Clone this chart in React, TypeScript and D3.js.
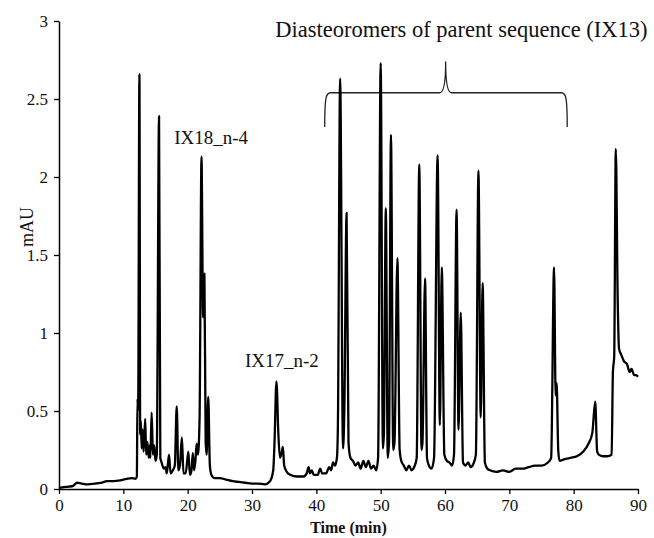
import React, { useRef, useEffect } from 'react';
import * as d3 from 'd3';

// chromatogram trace, [time (min), absorbance (mAU)]
const baselineStart: [number, number][] = [
  [0, 0.005], [0.5, 0.01], [1.5, 0.015], [2.2, 0.02], [2.8, 0.04], [3.5, 0.035], [4.5, 0.03],
  [5.5, 0.035], [6.5, 0.04], [7.5, 0.05], [8.5, 0.05], [9.5, 0.055], [10.5, 0.065], [11.3, 0.07],
  [11.9, 0.065], [12.1, 0.08],
];

const earlyCluster: [number, number][] = [
  [12.2, 0.58], [12.3, 0.5], [12.5, 2.66], [12.62, 0.35], [12.72, 0.44], [12.85, 0.26], [13.0, 0.38],
  [13.15, 0.24], [13.4, 0.45], [13.55, 0.22], [13.75, 0.3], [13.95, 0.2], [14.1, 0.28], [14.2, 0.2],
  [14.4, 0.49], [14.6, 0.22], [14.8, 0.28], [15.0, 0.18], [15.2, 0.22], [15.55, 2.39], [15.75, 0.2],
  [15.95, 0.17], [16.3, 0.13], [16.55, 0.14], [16.75, 0.1], [17.1, 0.22], [17.35, 0.1], [17.7, 0.12],
  [18.0, 0.15], [18.3, 0.53], [18.55, 0.12], [18.8, 0.15], [19.1, 0.33], [19.35, 0.1], [19.7, 0.1],
  [20.1, 0.24], [20.35, 0.09], [20.6, 0.12], [20.8, 0.23], [21.0, 0.12], [21.2, 0.18], [21.4, 0.29],
  [21.6, 0.22], [21.85, 0.45], [22.15, 2.13], [22.4, 1.1], [22.6, 1.38], [22.8, 0.3], [22.95, 0.22],
  [23.2, 0.59], [23.45, 0.15], [23.7, 0.09], [24.2, 0.07],
];

const midSection: [number, number][] = [
  [25, 0.07], [26, 0.06], [27, 0.05], [28, 0.045], [29, 0.04], [30, 0.035], [31, 0.035], [32, 0.03],
  [32.8, 0.05], [33.3, 0.12], [33.5, 0.3], [33.8, 0.69], [34.1, 0.35], [34.35, 0.2], [34.6, 0.23],
  [34.8, 0.27], [35.0, 0.15], [35.4, 0.11], [36, 0.09], [37, 0.08], [38, 0.08], [38.5, 0.1],
  [38.8, 0.14], [39.0, 0.1], [39.3, 0.12], [39.6, 0.09], [40.2, 0.09], [40.6, 0.13], [40.9, 0.1],
  [41.5, 0.1], [42.0, 0.14], [42.3, 0.12], [42.6, 0.17], [42.9, 0.15], [43.2, 0.2],
];

const diastereomers: [number, number][] = [
  [43.35, 0.4], [43.7, 2.63], [44.15, 0.26], [44.35, 0.5], [44.7, 1.77], [45.0, 0.3], [45.3, 0.2],
  [45.7, 0.18], [46.1, 0.15], [46.5, 0.17], [46.9, 0.13], [47.3, 0.18], [47.7, 0.14], [48.1, 0.18],
  [48.5, 0.13], [48.9, 0.15], [49.3, 0.12], [49.6, 0.2],
  [50.0, 2.73], [50.35, 0.26], [50.5, 0.35], [50.8, 1.8], [51.1, 0.2], [51.3, 0.3], [51.6, 2.27],
  [51.95, 0.25], [52.15, 0.3], [52.6, 1.48], [52.95, 0.25], [53.2, 0.18], [53.6, 0.15], [54.0, 0.12],
  [54.4, 0.15], [54.8, 0.12], [55.2, 0.14], [55.6, 0.2],
  [56.0, 2.08], [56.35, 0.25], [56.5, 0.3], [56.9, 1.35], [57.2, 0.2], [57.5, 0.15], [57.9, 0.13],
  [58.3, 0.2], [58.85, 2.14], [59.2, 0.41], [59.5, 1.42], [59.9, 0.22], [60.3, 0.18], [60.7, 0.17],
  [61.1, 0.15], [61.4, 0.22], [61.8, 1.79], [62.1, 0.38], [62.45, 1.13], [62.8, 0.17], [63.2, 0.15],
  [63.6, 0.17], [64.0, 0.14], [64.4, 0.16], [64.8, 0.22], [65.2, 2.04], [65.55, 0.46], [65.85, 1.32],
  [66.2, 0.17], [66.6, 0.13],
];

const lateSection: [number, number][] = [
  [67, 0.12], [68, 0.11], [69, 0.12], [70, 0.11], [71, 0.13], [72, 0.13], [73, 0.14], [74, 0.15],
  [75, 0.15], [76, 0.17], [76.5, 0.2], [76.95, 1.42], [77.2, 0.6], [77.35, 0.68], [77.6, 0.25],
  [77.8, 0.18], [78.5, 0.19], [79.5, 0.2], [80.5, 0.21], [81.5, 0.24], [82.3, 0.29], [82.9, 0.36],
  [83.35, 0.56], [83.65, 0.24], [83.9, 0.22], [84.5, 0.21], [85.2, 0.21], [85.9, 0.22], [86.1, 0.75],
  [86.3, 0.85], [86.55, 2.18], [86.85, 1.2], [87.05, 0.9], [87.4, 0.86], [87.8, 0.82], [88.3, 0.8],
  [88.7, 0.75], [89.0, 0.77], [89.4, 0.73], [89.7, 0.73], [90, 0.72],
];

const xTicks = [0, 10, 20, 30, 40, 50, 60, 70, 80, 90];
const yTicks = [0, 0.5, 1, 1.5, 2, 2.5, 3];

// brace over the diastereomer peaks: [start, middle, end] time, [arm, bar, tip] level
const braceTimes = [41.3, 60.1, 79.0];
const braceLevels = [2.32, 2.54, 2.74];

const labels = [
  { text: 'IX18_n-4', t: 17.9, v: 2.21, size: 19 },
  { text: 'IX17_n-2', t: 28.9, v: 0.78, size: 19 },
  { text: 'Diasteoromers of parent sequence (IX13)', t: 33.6, v: 2.9, size: 22.5 },
];

function Chromatogram() {
  const ref = useRef<HTMLDivElement>(null);

  useEffect(() => {
    const W = 654;
    const H = 538;
    const margin = { top: 21, right: 16, bottom: 49, left: 59 };

    const root = d3.select(ref.current);
    root.selectAll('*').remove();

    const svg = root
      .append('svg')
      .attr('width', W)
      .attr('height', H)
      .style('display', 'block')
      .style('font-family', '"Liberation Serif", "Times New Roman", serif');

    const x = d3.scaleLinear().domain([0, 90]).range([margin.left, W - margin.right]);
    const y = d3.scaleLinear().domain([0, 3]).range([H - margin.bottom, margin.top]);

    // brace
    const [t0, tm, t1] = braceTimes;
    const [vArm, vBar, vTip] = braceLevels;
    const p = d3.path();
    p.moveTo(x(t0), y(vArm));
    p.bezierCurveTo(x(t0), y(vBar - 0.03), x(t0 + 0.2), y(vBar), x(t0 + 0.9), y(vBar));
    p.lineTo(x(tm - 0.9), y(vBar));
    p.bezierCurveTo(x(tm - 0.35), y(vBar), x(tm), y(vBar + 0.05), x(tm), y(vTip));
    p.bezierCurveTo(x(tm), y(vBar + 0.05), x(tm + 0.35), y(vBar), x(tm + 0.9), y(vBar));
    p.lineTo(x(t1 - 0.9), y(vBar));
    p.bezierCurveTo(x(t1 - 0.2), y(vBar), x(t1), y(vBar - 0.03), x(t1), y(vArm));
    svg
      .append('path')
      .attr('d', p.toString())
      .attr('fill', 'none')
      .attr('stroke', '#222')
      .attr('stroke-width', 1.3);

    // trace
    const trace = [...baselineStart, ...earlyCluster, ...midSection, ...diastereomers, ...lateSection];
    const line = d3
      .line<[number, number]>()
      .x((d) => x(d[0]))
      .y((d) => y(d[1]))
      .curve(d3.curveMonotoneX);

    svg
      .append('path')
      .datum(trace)
      .attr('d', line)
      .attr('fill', 'none')
      .attr('stroke', '#000')
      .attr('stroke-width', 2.3)
      .attr('stroke-linejoin', 'round');

    // axes
    const xAxis = svg
      .append('g')
      .attr('transform', 'translate(0,' + (H - margin.bottom) + ')')
      .call(d3.axisBottom(x).tickValues(xTicks).tickSize(5).tickSizeOuter(0).tickPadding(5).tickFormat((d) => String(d)));

    const yAxis = svg
      .append('g')
      .attr('transform', 'translate(' + margin.left + ',0)')
      .call(d3.axisLeft(y).tickValues(yTicks).tickSize(5).tickSizeOuter(0).tickPadding(6).tickFormat((d) => String(d)));

    [xAxis, yAxis].forEach((g) => {
      g.attr('font-family', null).attr('font-size', null);
      g.selectAll('text').style('font-size', '17px').attr('fill', '#111');
      g.selectAll('line').attr('stroke', '#000').attr('stroke-width', 1.3);
      g.select('.domain').attr('stroke', '#000').attr('stroke-width', 1.5);
    });

    svg
      .append('text')
      .attr('x', (x(0) + x(90)) / 2)
      .attr('y', 533)
      .attr('text-anchor', 'middle')
      .style('font-size', '16px')
      .style('font-weight', 'bold')
      .attr('fill', '#111')
      .text('Time (min)');

    svg
      .append('text')
      .attr('transform', 'translate(33,' + y(1.68) + ') rotate(-90)')
      .attr('text-anchor', 'middle')
      .style('font-size', '18px')
      .attr('fill', '#111')
      .text('mAU');

    svg
      .selectAll('text.note')
      .data(labels)
      .enter()
      .append('text')
      .attr('class', 'note')
      .attr('x', (d) => x(d.t))
      .attr('y', (d) => y(d.v))
      .style('font-size', (d) => d.size + 'px')
      .attr('fill', '#111')
      .text((d) => d.text);
  }, []);

  return <div ref={ref} style={{ position: 'absolute', left: 0, top: 0 }} />;
}

export default function App() {
  return <Chromatogram />;
}
